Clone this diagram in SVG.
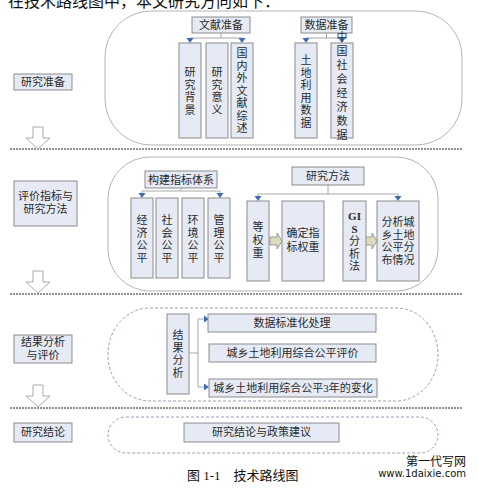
<svg xmlns="http://www.w3.org/2000/svg" width="478" height="488" viewBox="0 0 478 488">
<style>
.bx{fill:#e6eaf4;stroke:#8c8c8c;stroke-width:1}
.t{font-family:"Liberation Serif","Noto Sans CJK SC",serif;font-size:11px;fill:#2a2a2a;text-anchor:middle}
.ts{font-weight:bold}
.ln{stroke:#a8a8a8;stroke-width:1;fill:none}
.ah{fill:#3f6db3}
.sep{stroke:#222;stroke-width:1;stroke-dasharray:2,1;fill:none}
.dn{fill:#fff;stroke:#aaaaaa;stroke-width:1}
.ba{fill:#dcdcbc;stroke:#9a9a9a;stroke-width:1}
.rr{fill:none;stroke:#b4b4b4;stroke-width:1}
.rd{fill:none;stroke:#9c9cb8;stroke-width:1;stroke-dasharray:3,2}
</style>
<defs>
<path id="ad" d="M-3.5,-5 L3.5,-5 L0,0 Z"/>
<path id="ar" d="M-5,-3.5 L-5,3.5 L0,0 Z"/>
<path id="down" d="M-5,-22 L5,-22 L5,-11 L12,-11 L0,0 L-12,-11 L-5,-11 Z"/>
<path id="rt" d="M0,-4 L7,-4 L7,-8 L12,0 L7,8 L7,4 L0,4 Z"/>
</defs>

<text x="8" y="7" font-family="Liberation Serif, Noto Sans CJK SC, serif" font-size="16" fill="#111">在技术路线图中，本文研究方向如下：</text>

<g id="frames">
<rect class="rr" x="105" y="11" width="357" height="134" rx="46" ry="46"/>
<rect class="rr" x="108" y="157" width="330" height="134" rx="42" ry="42"/>
<rect class="rd" x="108" y="308" width="330" height="93" rx="42" ry="46"/>
<rect class="rd" x="108" y="417" width="330" height="36" rx="18" ry="18"/>
</g>

<g id="separators">
<line class="sep" x1="10" y1="149" x2="462" y2="149"/>
<line class="sep" x1="10" y1="294" x2="462" y2="294"/>
<line class="sep" x1="10" y1="408" x2="462" y2="408"/>
</g>

<g id="flow-arrows">
<use href="#down" class="dn" x="38" y="149"/>
<use href="#down" class="dn" x="38" y="293"/>
<use href="#down" class="dn" x="38" y="407"/>
</g>

<g id="connectors">
<path class="ln" d="M221,33 V38 M190,38 H242 M190,38 V42 M242,38 V42"/>
<path class="ln" d="M326.5,33 V38 M306,38 H342 M306,38 V42 M342,38 V42"/>
<use href="#ad" class="ah" x="190" y="43"/>
<use href="#ad" class="ah" x="242" y="43"/>
<use href="#ad" class="ah" x="306" y="43"/>
<use href="#ad" class="ah" x="342" y="43"/>
<path class="ln" d="M181,188 V191 M142,191 H220 M142,191 V197 M220,191 V197"/>
<use href="#ad" class="ah" x="142" y="198"/>
<use href="#ad" class="ah" x="220" y="198"/>
<path class="ln" d="M328,185 V194 M258,194 H398 M258,194 V200 M398,194 V200"/>
<use href="#ad" class="ah" x="258" y="201"/>
<use href="#ad" class="ah" x="398" y="201"/>
<use href="#rt" class="ba" x="270" y="241"/>
<use href="#rt" class="ba" x="365" y="241"/>
<path class="ln" d="M189,353 H198 M198,319 V387 M198,319 H204 M198,387 H204"/>
<use href="#ar" class="ah" x="209" y="319"/>
<use href="#ar" class="ah" x="209" y="387"/>
</g>

<g id="n-yjzb"><rect class="bx" x="14" y="74" width="58" height="16"/><text class="t" x="43" y="86">研究准备</text></g>
<g id="n-wxzb"><rect class="bx" x="192" y="17" width="58" height="16"/><text class="t" x="221" y="29">文献准备</text></g>
<g id="n-sjzb"><rect class="bx" x="301" y="17" width="51" height="16"/><text class="t" x="326.5" y="29">数据准备</text></g>
<g id="n-yjbj"><rect class="bx" x="179" y="43" width="22" height="95"/><text class="t" x="190"><tspan x="190" y="76">研</tspan><tspan x="190" y="88.5">究</tspan><tspan x="190" y="101">背</tspan><tspan x="190" y="113.5">景</tspan></text></g>
<g id="n-yjyy"><rect class="bx" x="206" y="43" width="22" height="95"/><text class="t" x="217"><tspan x="217" y="76">研</tspan><tspan x="217" y="88.5">究</tspan><tspan x="217" y="101">意</tspan><tspan x="217" y="113.5">义</tspan></text></g>
<g id="n-gnwx"><rect class="bx" x="231" y="43" width="22" height="95"/><text class="t" x="242"><tspan x="242" y="57">国</tspan><tspan x="242" y="69.5">内</tspan><tspan x="242" y="82">外</tspan><tspan x="242" y="94.5">文</tspan><tspan x="242" y="107">献</tspan><tspan x="242" y="119.5">综</tspan><tspan x="242" y="132">述</tspan></text></g>
<g id="n-tdly"><rect class="bx" x="295" y="43" width="22" height="95"/><text class="t" x="306"><tspan x="306" y="64">土</tspan><tspan x="306" y="76.5">地</tspan><tspan x="306" y="89">利</tspan><tspan x="306" y="101.5">用</tspan><tspan x="306" y="114">数</tspan><tspan x="306" y="126.5">据</tspan></text></g>
<g id="n-zgsh"><rect class="bx" x="331" y="43" width="22" height="95"/><text class="t" x="342"><tspan x="342" y="41">中</tspan><tspan x="342" y="55">国</tspan><tspan x="342" y="69">社</tspan><tspan x="342" y="83">会</tspan><tspan x="342" y="97">经</tspan><tspan x="342" y="111">济</tspan><tspan x="342" y="125">数</tspan><tspan x="342" y="139">据</tspan></text></g>

<g id="n-pjzb"><rect class="bx" x="14" y="181" width="63" height="45"/><text class="t" x="45.5"><tspan x="45.5" y="200">评价指标与</tspan><tspan x="45.5" y="213">研究方法</tspan></text></g>
<g id="n-gjzb"><rect class="bx" x="145" y="171" width="72" height="17"/><text class="t" x="181" y="184">构建指标体系</text></g>
<g id="n-yjff"><rect class="bx" x="292" y="167" width="72" height="18"/><text class="t" x="328" y="180">研究方法</text></g>
<g id="n-jjgp"><rect class="bx" x="131" y="198" width="22" height="80"/><text class="t" x="142"><tspan x="142" y="224">经</tspan><tspan x="142" y="236.5">济</tspan><tspan x="142" y="249">公</tspan><tspan x="142" y="261.5">平</tspan></text></g>
<g id="n-shgp"><rect class="bx" x="156" y="198" width="22" height="80"/><text class="t" x="167"><tspan x="167" y="224">社</tspan><tspan x="167" y="236.5">会</tspan><tspan x="167" y="249">公</tspan><tspan x="167" y="261.5">平</tspan></text></g>
<g id="n-hjgp"><rect class="bx" x="182" y="198" width="22" height="80"/><text class="t" x="193"><tspan x="193" y="224">环</tspan><tspan x="193" y="236.5">境</tspan><tspan x="193" y="249">公</tspan><tspan x="193" y="261.5">平</tspan></text></g>
<g id="n-glgp"><rect class="bx" x="208" y="198" width="22" height="80"/><text class="t" x="219"><tspan x="219" y="224">管</tspan><tspan x="219" y="236.5">理</tspan><tspan x="219" y="249">公</tspan><tspan x="219" y="261.5">平</tspan></text></g>
<g id="n-dqz"><rect class="bx" x="247" y="201" width="22" height="80"/><text class="t" x="258"><tspan x="258" y="231">等</tspan><tspan x="258" y="244">权</tspan><tspan x="258" y="257">重</tspan></text></g>
<g id="n-qdzb"><rect class="bx" x="282" y="201" width="42" height="80"/><text class="t" x="303"><tspan x="303" y="237">确定指</tspan><tspan x="303" y="251">标权重</tspan></text></g>
<g id="n-gis"><rect class="bx" x="343" y="201" width="23" height="80"/><text class="t" x="354.5"><tspan class="ts" x="354.5" y="220">GI</tspan><tspan class="ts" x="354.5" y="232.5">S</tspan><tspan x="354.5" y="245">分</tspan><tspan x="354.5" y="257.5">析</tspan><tspan x="354.5" y="270">法</tspan></text></g>
<g id="n-fxcx"><rect class="bx" x="377" y="201" width="42" height="80"/><text class="t" x="398"><tspan x="398" y="226">分析城</tspan><tspan x="398" y="238.5">乡土地</tspan><tspan x="398" y="251">公平分</tspan><tspan x="398" y="263.5">布情况</tspan></text></g>

<g id="n-jgfxpj"><rect class="bx" x="14" y="335" width="58" height="28"/><text class="t" x="43"><tspan x="43" y="346">结果分析</tspan><tspan x="43" y="358.5">与评价</tspan></text></g>
<g id="n-jgfx"><rect class="bx" x="167" y="314" width="22" height="80"/><text class="t" x="178"><tspan x="178" y="339">结</tspan><tspan x="178" y="351.5">果</tspan><tspan x="178" y="364">分</tspan><tspan x="178" y="376.5">析</tspan></text></g>
<g id="n-sjbz"><rect class="bx" x="208" y="314" width="168" height="18"/><text class="t" x="292" y="327">数据标准化处理</text></g>
<g id="n-zhpj"><rect class="bx" x="209" y="344" width="167" height="18"/><text class="t" x="292.5" y="357">城乡土地利用综合公平评价</text></g>
<g id="n-bh"><rect class="bx" x="209" y="379" width="168" height="18"/><text class="t" x="293" y="392">城乡土地利用综合公平3年的变化</text></g>

<g id="n-yjjl"><rect class="bx" x="14" y="423" width="58" height="19"/><text class="t" x="43" y="436">研究结论</text></g>
<g id="n-jljy"><rect class="bx" x="184" y="423" width="155" height="19"/><text class="t" x="261.5" y="436">研究结论与政策建议</text></g>

<text x="187" y="480" font-family="Liberation Serif, Noto Sans CJK SC, serif" font-size="13" fill="#111" xml:space="preserve">图 1-1    技术路线图</text>
<text x="466" y="466" font-family="Noto Sans CJK SC, sans-serif" font-size="12" fill="#111" text-anchor="end">第一代写网</text>
<text x="466" y="477" font-family="DejaVu Sans, sans-serif" font-size="10" fill="#111" text-anchor="end">www.1daixie.com</text>
</svg>
